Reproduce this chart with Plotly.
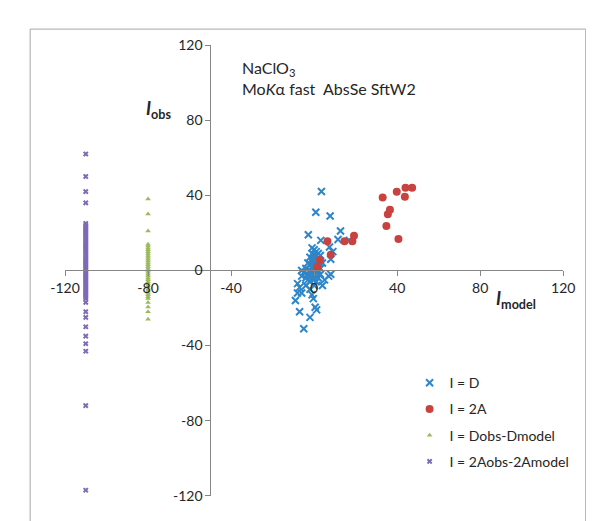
import plotly.graph_objects as go

# ---------------- data ----------------
d_x = [3.5, 0.8, 7.7, -2.8, 12.7, 11.5, 3.2, 7.4, 17, 9, 8,
       -1, 0, 1, 2, -1, 0, 1, 3, -2, 0, 2, -1, 1, 3, -3, 0, 2, 4, -2, 1, -1, 0, 2,
       -4, -1, 1, 3, -6, -2, 0, 2, -5, -1, 1, -3, 0, 3, -6, -2, 1, 7, 8, -4, -1, 2,
       -3, 0, 5, -2, 1, -8, -4, 0, 4, -7, -2, -8, -6, -1, -9, -0.4, 0.5, 1.2, -7, -2, -5]
d_y = [42, 31, 29, 19, 21, 16.5, 16, 12.5, 16, 10, 6,
       12, 11, 10, 9, 9, 8, 8, 8, 7, 6, 6, 5, 5, 5, 4, 4, 4, 4, 3, 3, 2, 2, 2,
       1, 1, 1, 1, 0, 0, 0, 0, -1, -1, -1, -2, -2, -2, -3, -3, -3, -3, -2, -4, -4, -4,
       -5, -5, -5, -6, -6, -7, -8, -8, -8, -9, -10, -12, -12, -13, -16, -15, -19.6, -21, -22, -25, -31]

a_x = [33, 39.8, 44, 47.2, 43.7, 36.5, 35.5, 34.8, 40.6, 6.4, 14.6, 18.4, 19.2, 8, 2.8, 1.5]
a_y = [38.8, 41.9, 44, 44, 39.3, 32.3, 29.9, 23.7, 16.8, 15.5, 15.5, 15.5, 18.5, 8.4, 5.5, 1.9]

dd_pos = -80
dd_y = [38, 30, 21, 14, 13, 12, 11, 10, 9, 8, 7, 6, 5, 4, 3, 2, 1, 0, -1, -2, -3, -4,
        -5, -6, -7, -8, -9, -10, -11, -12, -13, -14, -15, -17, -19.5, -22, -26]

aa_pos = -110
aa_y = [62, 50, 42, 36, 25, 24, 23, 22, 21, 20, 19, 18, 17, 16, 15, 14, 13, 12, 11, 10,
        9, 8, 7, 6, 5, 4, 3, 2, 1, 0, -1, -2, -3, -4, -5, -6, -7, -8, -9, -10, -11,
        -12, -13, -14, -15, -17, -22, -25, -30, -35, -39, -43, -72, -117]

x_ticks = [-120, -80, -40, 0, 40, 80, 120]
x_tick_labels = ["-120", "-80", "-40", "0", "40", "80", "120"]
y_ticks = [-120, -80, -40, 0, 40, 80, 120]
y_tick_labels = ["-120", "-80", "-40", "0", "40", "80", "120"]
y_axis_cross = -50

# ---------------- figure ----------------
W, H = 594, 521
FONT = "Lato"
AXC = "#868686"

fig = go.Figure()
fig.add_trace(go.Scatter(
    x=d_x, y=d_y, mode="markers", name="I = D", legendgroup="g1",
    marker=dict(symbol="x-thin", size=7, color="#2E86C8",
                line=dict(width=2, color="#2E86C8"))))
fig.add_trace(go.Scatter(
    x=a_x, y=a_y, mode="markers", name="I = 2A", legendgroup="g2",
    marker=dict(symbol="circle", size=8, color="#C8433F")))
fig.add_trace(go.Scatter(
    x=[dd_pos] * len(dd_y), y=dd_y, mode="markers", name="I = Dobs-Dmodel", legendgroup="g3",
    marker=dict(symbol="triangle-up", size=5, color="#9BBB59")))
fig.add_trace(go.Scatter(
    x=[aa_pos] * len(aa_y), y=aa_y, mode="markers", name="I = 2Aobs-2Amodel", legendgroup="g4",
    marker=dict(symbol="x", size=5, color="#7F6AB4")))

xdom = [44 / W, 566 / W]
ydom = [1 - 495 / H, 1 - 29 / H]
ypos_xaxis = (ydom[0] + ydom[1]) / 2
xpos_yaxis = xdom[0] + (y_axis_cross + 120) / 240 * (xdom[1] - xdom[0])

fig.update_layout(
    width=W, height=H,
    margin=dict(l=0, r=0, t=0, b=0),
    paper_bgcolor="white", plot_bgcolor="white",
    font=dict(family=FONT, size=14, color="#262626"),
    xaxis=dict(domain=xdom, range=[-120, 120], anchor="free", position=ypos_xaxis,
               tickvals=x_ticks, ticktext=x_tick_labels, ticks="outside", ticklen=5,
               tickcolor=AXC, showline=True, linecolor=AXC, linewidth=1,
               showgrid=False, zeroline=False, tickfont=dict(size=14)),
    yaxis=dict(domain=ydom, range=[-120, 120], anchor="free", position=xpos_yaxis,
               tickvals=y_ticks, ticktext=y_tick_labels, ticks="outside", ticklen=5,
               tickcolor=AXC, showline=True, linecolor=AXC, linewidth=1,
               showgrid=False, zeroline=False, tickfont=dict(size=14)),
    legend=dict(x=405 / W, y=1 - 362 / H, xanchor="left", yanchor="top",
                font=dict(size=14), tracegroupgap=5, bgcolor="rgba(0,0,0,0)"),
    showlegend=True,
)

fig.add_annotation(x=227 / W, y=1 - 40 / H, xref="paper", yref="paper",
                   xanchor="left", yanchor="top", align="left", showarrow=False,
                   text="NaClO<sub>3</sub><br>Mo<i>K</i>α fast\u00a0\u00a0AbsSe SftW2",
                   font=dict(size=16, color="#262626"))
fig.add_annotation(x=157 / W, y=1 - 96 / H, xref="paper", yref="paper",
                   xanchor="right", yanchor="middle", showarrow=False,
                   text="<b><i>I</i></b><b><sub>obs</sub></b>",
                   font=dict(size=18, color="#262626"))
fig.add_annotation(x=516 / W, y=1 - 292 / H, xref="paper", yref="paper",
                   xanchor="center", yanchor="middle", showarrow=False,
                   text="<b><i>I</i></b><b><sub>model</sub></b>",
                   font=dict(size=18, color="#262626"))

# chart border
fig.add_shape(type="rect", xref="paper", yref="paper",
              x0=7.5 / W, x1=589.5 / W, y0=-0.05, y1=1 - 12.5 / H,
              line=dict(color="#A6A6A6", width=1), fillcolor="rgba(0,0,0,0)")

fig.write_html("out.html")
